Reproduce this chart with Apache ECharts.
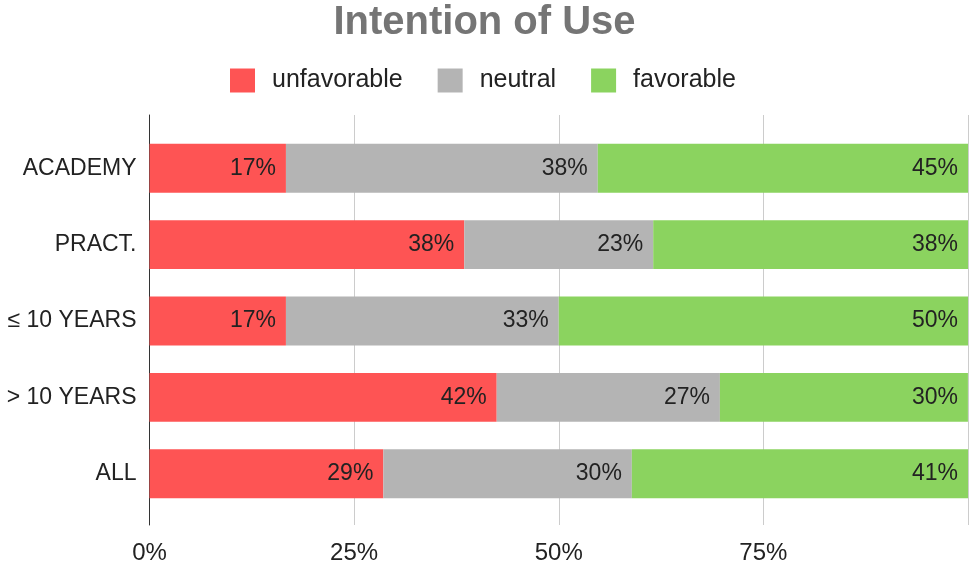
<!DOCTYPE html>
<html>
<head>
<meta charset="utf-8">
<script src="https://cdn.jsdelivr.net/npm/echarts@6/dist/echarts.min.js"></script>
<style>
html,body{margin:0;padding:0;background:#fff;}
#chart{width:969px;height:568px;}
</style>
</head>
<body>
<div id="chart"></div>
<script>
const categories = ['ACADEMY', 'PRACT.', '\u2264 10 YEARS', '> 10 YEARS', 'ALL'];
const unfavorable = [16.67, 38.46, 16.67, 42.42, 28.57];
const neutral = [38.10, 23.08, 33.33, 27.27, 30.36];
const favorable = [45.24, 38.46, 50.00, 30.30, 41.07];
const seriesNames = ['unfavorable', 'neutral', 'favorable'];
const tickValues = [0, 25, 50, 75];

const FONT = '"Liberation Sans", Arial, Helvetica, sans-serif';
const colors = ['#fe5454', '#b4b4b4', '#8bd35f'];

const chart = echarts.init(document.getElementById('chart'));

function makeSeries(name, data, color) {
  return {
    name: name,
    type: 'bar',
    stack: 'total',
    xAxisIndex: 1,
    yAxisIndex: 1,
    data: data,
    barCategoryGap: '36%',
    itemStyle: { color: color },
    emphasis: { disabled: true },
    label: {
      show: true,
      position: 'insideRight',
      distance: 10,
      color: '#222',
      fontFamily: FONT,
      fontSize: 23,
      formatter: p => Math.round(p.value) + '%'
    }
  };
}

chart.setOption({
  animation: false,
  backgroundColor: '#fff',
  title: {
    text: 'Intention of Use',
    left: 'center',
    top: -2,
    textStyle: { fontFamily: FONT, fontSize: 40, fontWeight: 'bold', color: '#757575' }
  },
  legend: {
    data: seriesNames,
    left: 230,
    top: 68,
    padding: 0,
    icon: 'rect',
    itemWidth: 25,
    itemHeight: 24,
    itemGap: 35,
    textStyle: { fontFamily: FONT, fontSize: 25, color: '#222', padding: [0, 0, 0, 12] }
  },
  grid: [
    { left: 149.5, right: 1, top: 115, bottom: 43, containLabel: false },
    { left: 149.5, right: 1, top: 130, bottom: 56, containLabel: false }
  ],
  xAxis: [
    {
      gridIndex: 0,
      type: 'value',
      min: 0, max: 100, interval: 25,
      axisLine: { show: false },
      axisTick: { show: false },
      splitLine: { show: true, lineStyle: { color: '#cccccc', width: 1 } },
      axisLabel: {
        margin: 16,
        color: '#222',
        fontFamily: FONT,
        fontSize: 24,
        showMaxLabel: false,
        formatter: v => tickValues.indexOf(v) >= 0 ? v + '%' : ''
      }
    },
    {
      gridIndex: 1,
      type: 'value',
      min: 0, max: 100,
      show: false
    }
  ],
  yAxis: [
    {
      gridIndex: 0,
      type: 'value',
      min: 0, max: 1,
      axisLine: { show: true, lineStyle: { color: '#333', width: 1 } },
      axisTick: { show: false },
      axisLabel: { show: false },
      splitLine: { show: false }
    },
    {
      gridIndex: 1,
      type: 'category',
      inverse: true,
      data: categories,
      axisLine: { show: false },
      axisTick: { show: false },
      splitLine: { show: false },
      axisLabel: {
        margin: 13,
        color: '#222',
        fontFamily: FONT,
        fontSize: 23
      }
    }
  ],
  series: [
    makeSeries(seriesNames[0], unfavorable, colors[0]),
    makeSeries(seriesNames[1], neutral, colors[1]),
    makeSeries(seriesNames[2], favorable, colors[2])
  ]
});
</script>
</body>
</html>
